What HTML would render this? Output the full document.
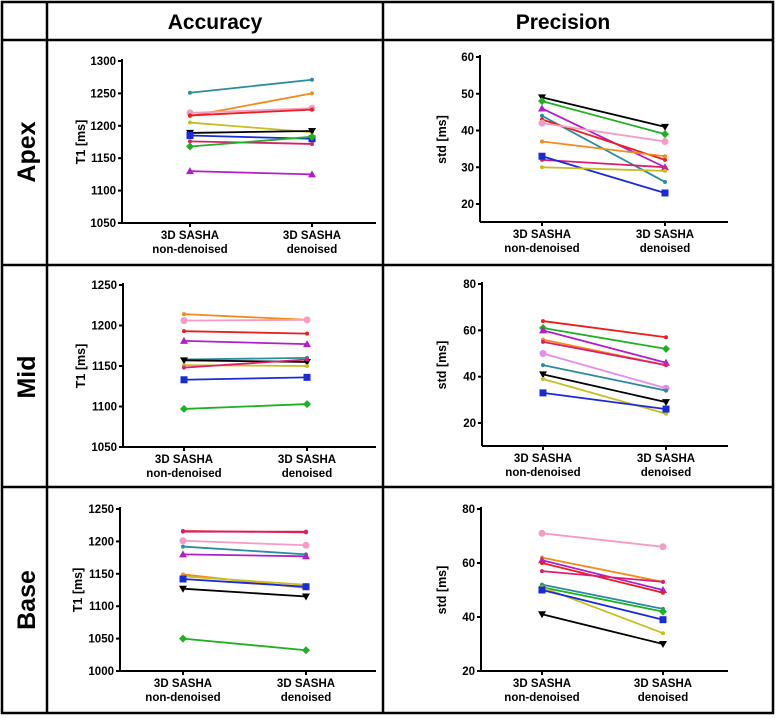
<!DOCTYPE html>
<html><head><meta charset="utf-8"><style>
html,body{margin:0;padding:0;background:#fff;}
svg{display:block;font-family:"Liberation Sans",Arial,sans-serif;}
</style></head><body>
<svg id="fig" width="777" height="718" viewBox="0 0 777 718" xmlns="http://www.w3.org/2000/svg">
<g stroke="#000" stroke-width="2.5" fill="none">
<rect x="2" y="2" width="771" height="711"/>
<line x1="47" y1="2" x2="47" y2="713"/>
<line x1="383" y1="2" x2="383" y2="713"/>
<line x1="2" y1="40" x2="773" y2="40"/>
<line x1="2" y1="265" x2="773" y2="265"/>
<line x1="2" y1="487" x2="773" y2="487"/>
</g>
<text x="215" y="29" text-anchor="middle" font-size="21" font-weight="bold">Accuracy</text>
<text x="563" y="29" text-anchor="middle" font-size="21" font-weight="bold">Precision</text>
<text transform="translate(35,152) rotate(-90)" text-anchor="middle" font-size="25" font-weight="bold">Apex</text>
<text transform="translate(35,377) rotate(-90)" text-anchor="middle" font-size="25" font-weight="bold">Mid</text>
<text transform="translate(35,600) rotate(-90)" text-anchor="middle" font-size="25" font-weight="bold">Base</text>
</svg>
<script>
const categories = ["3D SASHA|non-denoised", "3D SASHA|denoised"];
const seriesNames = ["teal","orange","pink","red","yellow","black","blue","magenta","green","purple","violet"];
const colors = {teal:"#2b8c9c",orange:"#f28a1e",pink:"#f39cc4",red:"#e8201f",yellow:"#c6bf22",black:"#000",blue:"#1a2ad6",magenta:"#d8206e",green:"#1fb024",purple:"#b01fc8",violet:"#e38ee9"};
const markers = {black:"tri-down",blue:"square",green:"diamond",purple:"tri",pink:"circle",violet:"circle"};

const apexAccSeries = ["teal","orange","pink","red","yellow","black","blue","magenta","green","purple"];
const apexAccBefore = [1251,1215,1220,1216,1205,1189,1185,1176,1168,1130];
const apexAccAfter  = [1271,1250,1227,1225,1190,1192,1180,1172,1183,1125];
const apexAccTicks = [1050,1100,1150,1200,1250,1300];

const apexPreSeries = ["black","green","purple","teal","red","pink","orange","magenta","blue","yellow"];
const apexPreBefore = [49,48,46,44,43,42,37,32,33,30];
const apexPreAfter  = [41,39,30,26,32,37,33,30,23,29];
const apexPreTicks = [20,30,40,50,60];

const midAccSeries = ["orange","pink","red","purple","teal","black","yellow","magenta","blue","green"];
const midAccBefore = [1214,1206,1193,1181,1158,1157,1151,1148,1133,1097];
const midAccAfter  = [1207,1207,1190,1177,1160,1155,1150,1158,1136,1103];
const midAccTicks = [1050,1100,1150,1200,1250];

const midPreSeries = ["red","green","purple","orange","magenta","violet","teal","black","yellow","blue"];
const midPreBefore = [64,61,60,56,55,50,45,41,39,33];
const midPreAfter  = [57,52,46,45,45,35,34,29,24,26];
const midPreTicks = [20,40,60,80];

const baseAccSeries = ["red","magenta","pink","teal","purple","orange","yellow","blue","black","green"];
const baseAccBefore = [1216,1215,1201,1192,1180,1149,1146,1142,1127,1050];
const baseAccAfter  = [1214,1215,1194,1180,1177,1128,1133,1130,1115,1032];
const baseAccTicks = [1000,1050,1100,1150,1200,1250];

const basePreSeries = ["pink","orange","purple","red","magenta","teal","green","yellow","blue","black"];
const basePreBefore = [71,62,61,60,57,52,51,51,50,41];
const basePreAfter  = [66,53,50,49,53,43,42,34,39,30];
const basePreTicks = [20,40,60,80];

const NS="http://www.w3.org/2000/svg";
const svg=document.getElementById('fig');
function mk(tag,attrs,parent){const e=document.createElementNS(NS,tag);for(const k in attrs)e.setAttribute(k,attrs[k]);parent.appendChild(e);return e;}

function panel(name,cfg,series,before,after,ticks,title){
  const g=mk('g',{},svg);
  
  
  const y=v=>cfg.yTop+(cfg.vTop-v)/(cfg.vTop-cfg.vBot)*(cfg.yBot-cfg.yTop);
  const xs=[cfg.x0,cfg.x1];
  const ya=mk('line',{x1:cfg.ax,y1:cfg.yTop-2,x2:cfg.ax,y2:cfg.axisBottom,stroke:'#000','stroke-width':2},g);
  
  
  const xa=mk('line',{x1:cfg.ax,y1:cfg.axisBottom,x2:cfg.axEnd,y2:cfg.axisBottom,stroke:'#000','stroke-width':2},g);
  
  
  ticks.forEach(t=>{
    const yy=y(t);
    mk('line',{x1:cfg.ax-4,y1:yy,x2:cfg.ax,y2:yy,stroke:'#000','stroke-width':2},g);
    const tx=mk('text',{x:cfg.ax-6,y:yy+4,'text-anchor':'end','font-size':11.5,'font-weight':'bold'},g);
    tx.textContent=t;
    
    
  });
  const yt=mk('text',{transform:`translate(${cfg.titleX},${(cfg.yTop+cfg.axisBottom)/2}) rotate(-90)`,'text-anchor':'middle','font-size':12.5,'font-weight':'bold'},g);
  yt.textContent=title;
  
  
  categories.forEach((c,i)=>{
    mk('line',{x1:xs[i],y1:cfg.axisBottom,x2:xs[i],y2:cfg.axisBottom+4,stroke:'#000','stroke-width':2},g);
    c.split('|').forEach((ln,j)=>{
      const tx=mk('text',{x:xs[i],y:cfg.axisBottom+16+j*14,'text-anchor':'middle','font-size':11.5,'font-weight':'bold'},g);
      tx.textContent=ln;
      
      
    });
  });
  series.forEach((s,i)=>{
    const col=colors[s];
    const ln=mk('line',{x1:xs[0],y1:y(before[i]),x2:xs[1],y2:y(after[i]),stroke:col,'stroke-width':1.8},g);
    
    
    [before[i],after[i]].forEach((v,k)=>{
      const cx=xs[k],cy=y(v),m=markers[s];let e;
      if(m==='square')e=mk('rect',{x:cx-3.5,y:cy-3.5,width:7,height:7,fill:col},g);
      else if(m==='circle')e=mk('circle',{cx,cy,r:3.5,fill:col},g);
      else if(m==='diamond')e=mk('polygon',{points:`${cx},${cy-4} ${cx+4},${cy} ${cx},${cy+4} ${cx-4},${cy}`,fill:col},g);
      else if(m==='tri')e=mk('polygon',{points:`${cx},${cy-4} ${cx+4},${cy+3} ${cx-4},${cy+3}`,fill:col},g);
      else if(m==='tri-down')e=mk('polygon',{points:`${cx},${cy+4} ${cx+4},${cy-3} ${cx-4},${cy-3}`,fill:col},g);
      else e=mk('circle',{cx,cy,r:2,fill:col},g);
      
      
    });
  });
}
panel('apex-accuracy',{ax:122,axEnd:376,yTop:61,yBot:223,vTop:1300,vBot:1050,axisBottom:223,x0:190,x1:312,titleX:85},apexAccSeries,apexAccBefore,apexAccAfter,apexAccTicks,'T1 [ms]');
panel('apex-precision',{ax:480,axEnd:728,yTop:57,yBot:204,vTop:60,vBot:20,axisBottom:222,x0:542,x1:665,titleX:446},apexPreSeries,apexPreBefore,apexPreAfter,apexPreTicks,'std [ms]');
panel('mid-accuracy',{ax:123,axEnd:376,yTop:285,yBot:447,vTop:1250,vBot:1050,axisBottom:447,x0:184,x1:307,titleX:85},midAccSeries,midAccBefore,midAccAfter,midAccTicks,'T1 [ms]');
panel('mid-precision',{ax:482,axEnd:728,yTop:284,yBot:423,vTop:80,vBot:20,axisBottom:446,x0:543,x1:666,titleX:446},midPreSeries,midPreBefore,midPreAfter,midPreTicks,'std [ms]');
panel('base-accuracy',{ax:120,axEnd:376,yTop:509,yBot:671,vTop:1250,vBot:1000,axisBottom:671,x0:183,x1:306,titleX:82},baseAccSeries,baseAccBefore,baseAccAfter,baseAccTicks,'T1 [ms]');
panel('base-precision',{ax:481,axEnd:728,yTop:509,yBot:671,vTop:80,vBot:20,axisBottom:671,x0:542,x1:663,titleX:446},basePreSeries,basePreBefore,basePreAfter,basePreTicks,'std [ms]');
</script>
</body></html>
